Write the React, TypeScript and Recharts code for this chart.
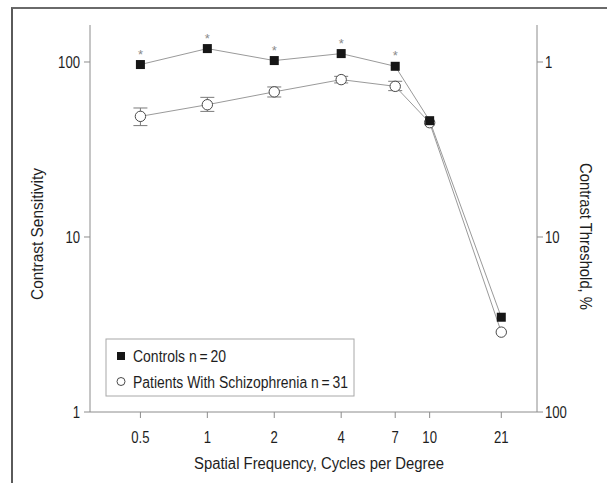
import React from 'react';
import { LineChart, Line, XAxis, YAxis, ErrorBar, Label } from 'recharts';

const freqs = [0.5, 1, 2, 4, 7, 10, 21];
const controls = [96.7, 119.3, 101.9, 111.7, 94.5, 46.2, 3.48];
const patients = [48.9, 57.0, 67.5, 79.3, 72.6, 45.0, 2.86];
const patientsUpper = [54.6, 62.8, 72.0, 82.8, 77.6, null, null];
const patientsLower = [43.3, 52.2, 63.1, 75.9, 68.6, null, null];
const significant = [true, true, true, true, true, false, false];
const sensitivityTicks = [1, 10, 100];
const controlsName = 'Controls n\u2009=\u200920';
const patientsName = 'Patients With Schizophrenia n\u2009=\u200931';
const xTitle = 'Spatial Frequency, Cycles per Degree';
const yLeftTitle = 'Contrast Sensitivity';
const yRightTitle = 'Contrast Threshold, %';

const data = freqs.map((f, i) => ({
  f,
  controls: controls[i],
  patients: patients[i],
  pErr:
    patientsUpper[i] == null
      ? null
      : [patients[i] - (patientsLower[i] as number), (patientsUpper[i] as number) - patients[i]],
  sig: significant[i],
}));

const FONT = "'Liberation Sans', Arial, sans-serif";
const SX = 0.82;
const AXIS = '#8c8c8c';
const TEXT = '#1e1e1e';
const LINE = '#9a9a9a';

const NarrowTick = (props: any) => {
  const { x, y, payload, textAnchor, tickFormatter, dy } = props;
  const label = tickFormatter ? tickFormatter(payload.value) : String(payload.value);
  return (
    <text
      transform={`translate(${x},${y}) scale(${SX},1)`}
      textAnchor={textAnchor}
      dy={dy}
      fontSize={16}
      fontFamily={FONT}
      fill={TEXT}
    >
      {label}
    </text>
  );
};

const SquareDot = (props: any) => {
  const { cx, cy, payload, index } = props;
  if (cx == null || cy == null) return null;
  return (
    <g key={`sq-${index}`}>
      {payload && payload.sig ? (
        <text x={cx} y={cy - 6} textAnchor="middle" fontSize={13} fill="#8a8a8a" fontFamily={FONT}>
          *
        </text>
      ) : null}
      <rect x={cx - 4.5} y={cy - 4.5} width={9} height={9} fill="#161616" />
    </g>
  );
};

const CircleDot = (props: any) => {
  const { cx, cy, index } = props;
  if (cx == null || cy == null) return null;
  return <circle key={`ci-${index}`} cx={cx} cy={cy} r={5.2} fill="#fff" stroke="#4a4a4a" strokeWidth={1} />;
};

const LegendBox = () => (
  <svg width={300} height={70} style={{ position: 'absolute', left: 105, top: 338, overflow: 'visible' }}>
    <rect x={1} y={1} width={248} height={57} fill="#fff" stroke="#a8a8a8" strokeWidth={1} />
    <rect x={12} y={14} width={8} height={8} fill="#161616" />
    <text x={28} y={23.5} fontSize={16} fontFamily={FONT} fill={TEXT} textLength={93} lengthAdjust="spacingAndGlyphs">
      {controlsName}
    </text>
    <circle cx={16} cy={43.5} r={4} fill="#fff" stroke="#4a4a4a" strokeWidth={1} />
    <text x={28} y={49.5} fontSize={16} fontFamily={FONT} fill={TEXT} textLength={215} lengthAdjust="spacingAndGlyphs">
      {patientsName}
    </text>
  </svg>
);

export default function App() {
  return (
    <div style={{ position: 'absolute', left: 0, top: 0, width: 607, height: 483, background: '#fff' }}>
      <div
        style={{
          position: 'absolute',
          left: 11,
          top: 7,
          width: 596,
          height: 476,
          borderTop: '2px solid #6a6a6a',
          borderLeft: '2px solid #5a5a5a',
          boxSizing: 'border-box',
        }}
      />
      <div style={{ position: 'absolute', left: 0, top: 0 }}>
        <LineChart width={607} height={483} data={data} margin={{ top: 25, right: 0, bottom: 0, left: 0 }}>
          <XAxis
            dataKey="f"
            type="number"
            scale="log"
            domain={[0.2966, 30.4]}
            allowDataOverflow
            ticks={freqs}
            tickFormatter={(v: number) => String(v)}
            height={71}
            stroke={AXIS}
            tickSize={6}
            tickMargin={14}
            tick={<NarrowTick dy="0.71em" />}
            interval={0}
          >
            <Label
              content={() => (
                <text
                  x={194}
                  y={469}
                  fontSize={16}
                  fontFamily={FONT}
                  fill={TEXT}
                  textLength={250}
                  lengthAdjust="spacingAndGlyphs"
                >
                  {xTitle}
                </text>
              )}
            />
          </XAxis>
          <YAxis
            yAxisId="left"
            type="number"
            scale="log"
            domain={[1, 162.7]}
            allowDataOverflow
            ticks={sensitivityTicks}
            width={90}
            stroke={AXIS}
            tickSize={6}
            tickMargin={4}
            tick={<NarrowTick dy="0.355em" />}
            interval={0}
          >
            <Label
              content={() => (
                <text
                  x={0}
                  y={0}
                  transform="translate(43, 300) rotate(-90)"
                  fontSize={16}
                  fontFamily={FONT}
                  fill={TEXT}
                  textLength={132}
                  lengthAdjust="spacingAndGlyphs"
                >
                  {yLeftTitle}
                </text>
              )}
            />
          </YAxis>
          <YAxis
            yAxisId="right"
            orientation="right"
            type="number"
            scale="log"
            domain={[1, 162.7]}
            allowDataOverflow
            ticks={sensitivityTicks}
            tickFormatter={(v: number) => String(Math.round(100 / v))}
            width={70}
            stroke={AXIS}
            tickSize={6}
            tickMargin={2}
            tick={<NarrowTick dy="0.355em" />}
            interval={0}
          >
            <Label
              content={() => (
                <text
                  x={0}
                  y={0}
                  transform="translate(580, 163) rotate(90)"
                  fontSize={16}
                  fontFamily={FONT}
                  fill={TEXT}
                  textLength={147}
                  lengthAdjust="spacingAndGlyphs"
                >
                  {yRightTitle}
                </text>
              )}
            />
          </YAxis>
          <Line
            yAxisId="left"
            dataKey="patients"
            name={patientsName}
            stroke={LINE}
            strokeWidth={1}
            dot={<CircleDot />}
            activeDot={false}
            isAnimationActive={false}
          >
            <ErrorBar dataKey="pErr" width={7} stroke="#7a7a7a" strokeWidth={1} direction="y" isAnimationActive={false} />
          </Line>
          <Line
            yAxisId="left"
            dataKey="controls"
            name={controlsName}
            stroke={LINE}
            strokeWidth={1}
            dot={<SquareDot />}
            activeDot={false}
            isAnimationActive={false}
          />
        </LineChart>
      </div>
      <LegendBox />
    </div>
  );
}
